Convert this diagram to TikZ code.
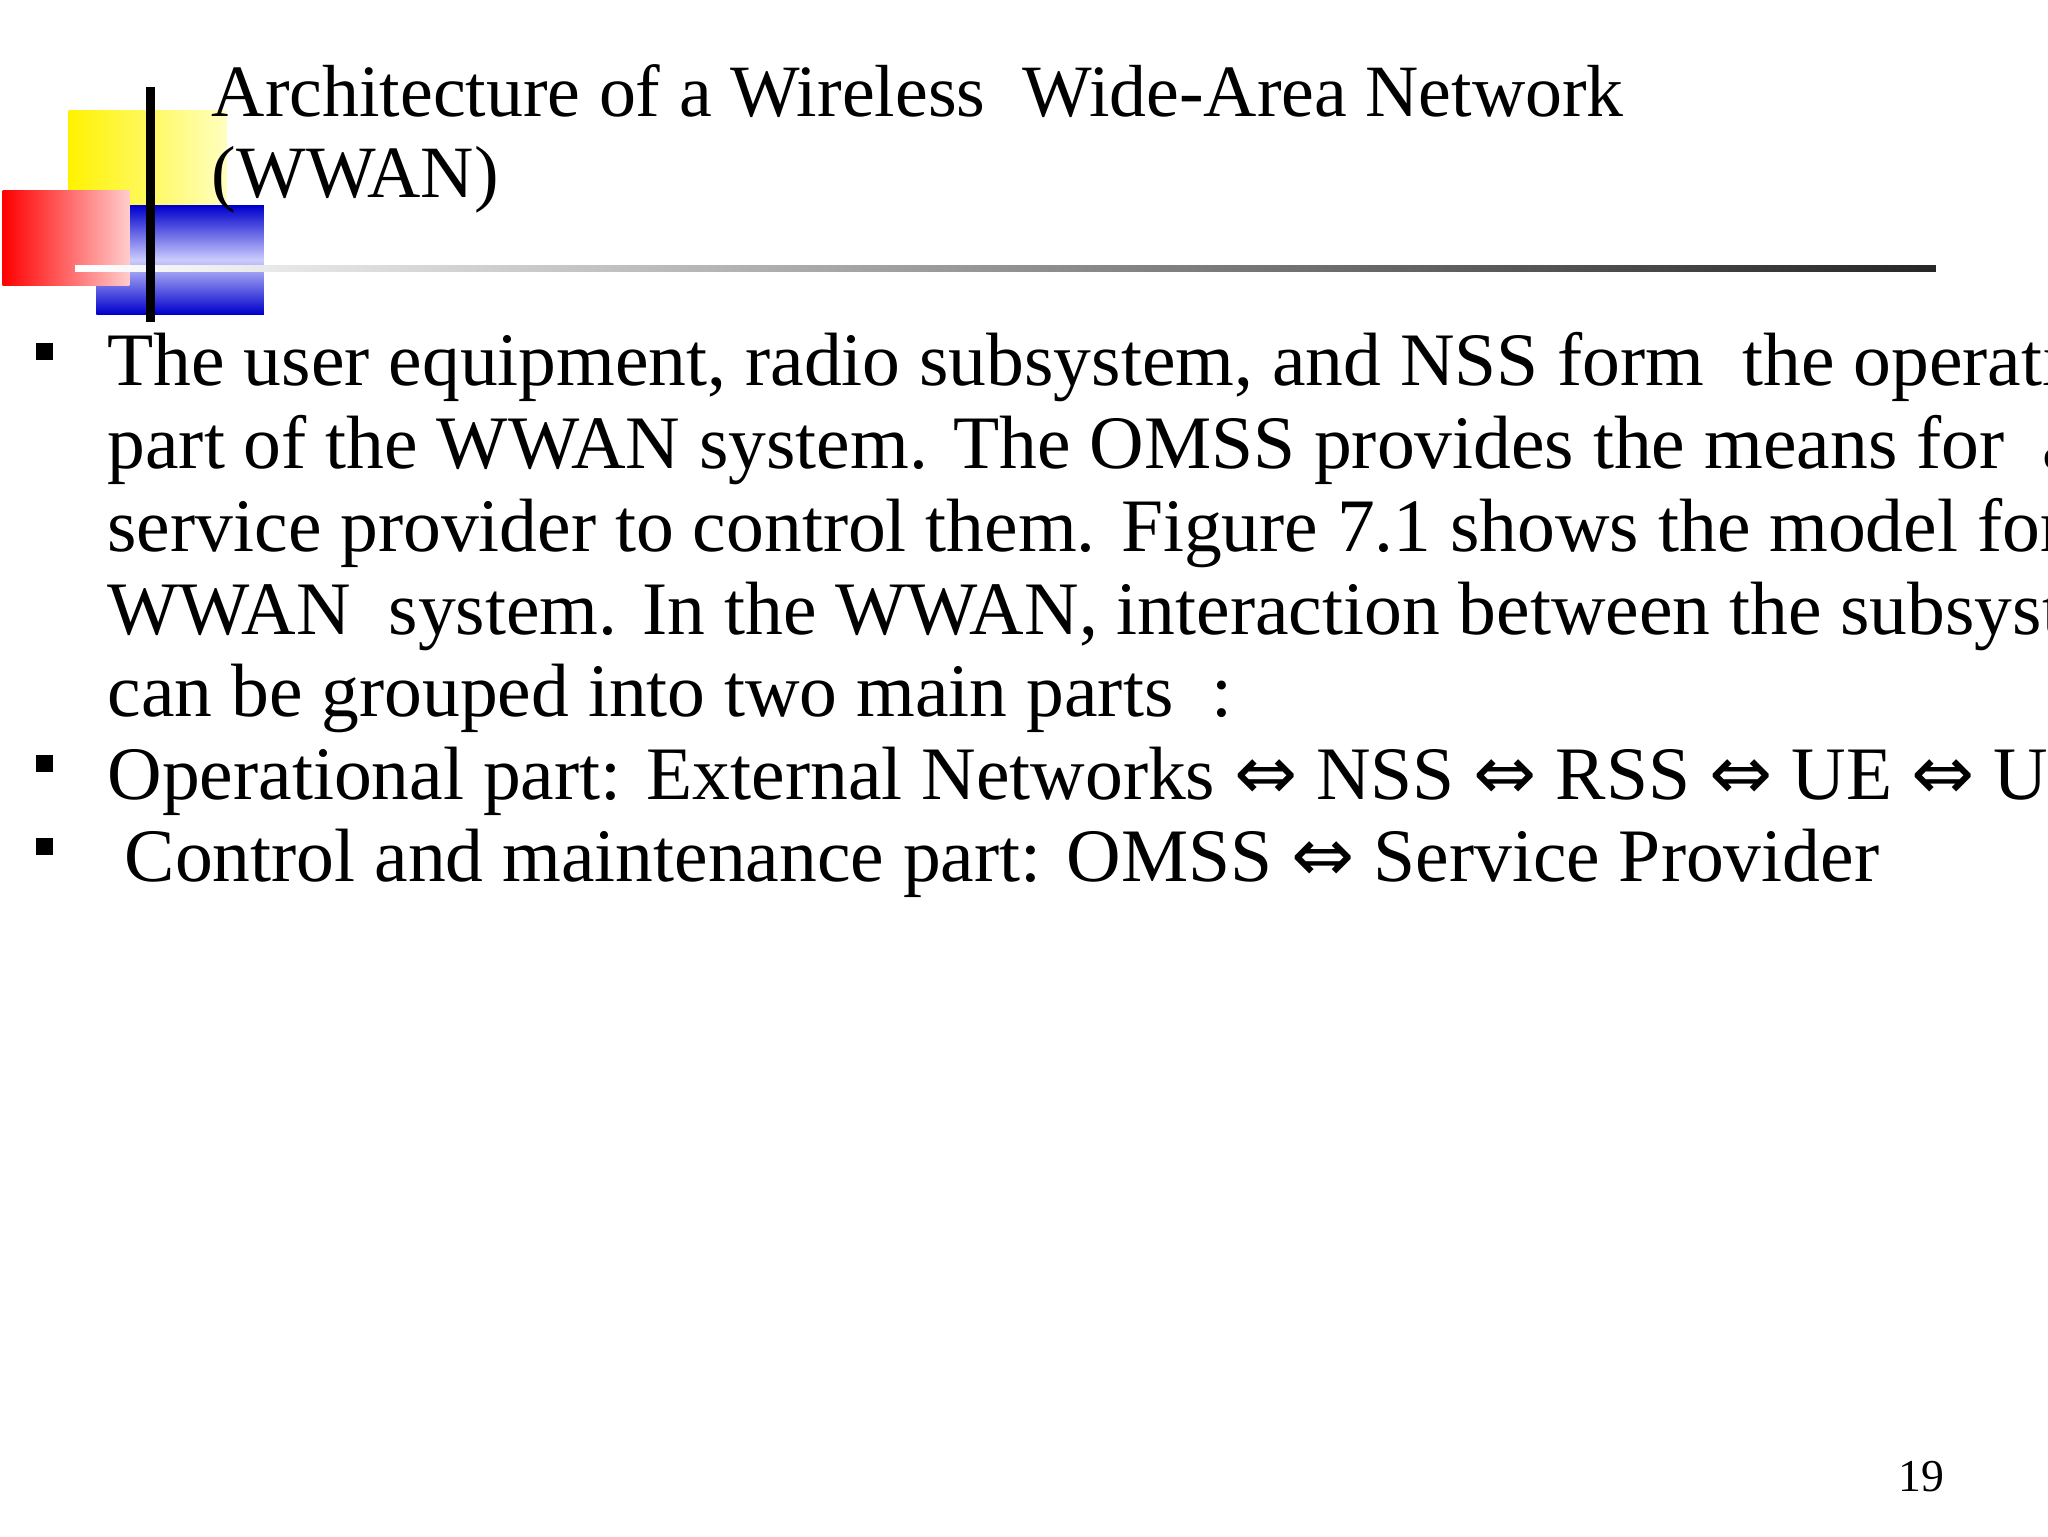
\documentclass[tikz,border=0pt]{standalone}
\usepackage{fontspec}
\setmainfont{Liberation Serif}
\newfontfamily\sym{DejaVu Sans}
\newcommand{\dblarr}{{\sym\char"21D4}}
\begin{document}
\begin{tikzpicture}[x=0.013196cm,y=-0.013196cm,
  body/.style={anchor=base west,inner sep=0pt,font=\fontsize{21.5}{25}\selectfont},
  bul/.style={fill=black}]
\useasboundingbox (0,0) rectangle (1552,1164);
\fill[white] (0,0) rectangle (1552,1164);
% logo
\shade[left color=yellow!90!orange,right color=yellow!25] (52,84) rectangle (172,158);
\shade[top color=blue!80!black,bottom color=blue!80!black,middle color=blue!20] (73,156) rectangle (200,238);
\shade[left color=red,right color=red!20] (2,144) rectangle (98,216);
\shade[left color=white,right color=black!85] (57,201) rectangle (1467,206);
\draw[line width=2.5pt] (114,66) -- (114,244);
% title
\node[body,font=\fontsize{21}{25}\selectfont] (t1) at (160,88) {Architecture of a Wireless\ \ Wide-Area Network};
\node[body,font=\fontsize{21}{25}\selectfont] (t2) at (160,150) {(WWAN)};
% bullets
\foreach \y in {260,572,635} \fill (27,\y) rectangle (40,\y+13);
\node[body] (l1) at (81,292) {The user equipment, radio subsystem, and NSS form\ \ the operational};
\node[body] (l2) at (81,355) {part of the WWAN system. The OMSS provides the means for\ \ a};
\node[body] (l3) at (81,418) {service provider to control them. Figure 7.1 shows the model for the};
\node[body] (l4) at (81,481) {WWAN\ \ system. In the WWAN, interaction between the subsystems};
\node[body] (l5) at (81,543) {can be grouped into two main parts\ \ :};
\node[body] (l6) at (81,606) {Operational part: External Networks \dblarr{} NSS \dblarr{} RSS \dblarr{} UE \dblarr{} User};
\node[body] (l7) at (94,668) {Control and maintenance part: OMSS \dblarr{} Service Provider};
\node[anchor=base east,inner sep=0pt,font=\fontsize{13}{15}\selectfont] (pg) at (1474,1130) {19};
\end{tikzpicture}
\end{document}
